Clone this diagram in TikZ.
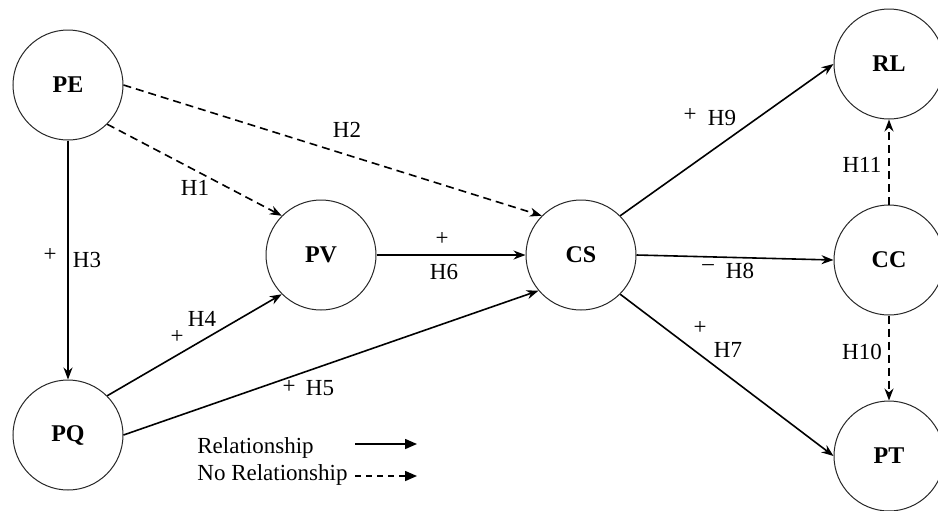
\documentclass[tikz,border=0pt]{standalone}
\usepackage{fontspec}
\setmainfont{Liberation Serif}
\usetikzlibrary{arrows.meta}

\tikzset{
  construct/.style={circle, draw=black!85, line width=0.5pt, minimum size=55pt, inner sep=0pt, font=\fontsize{12}{14}\selectfont\bfseries},
  rel/.style={line width=0.8pt, -{Stealth[length=6pt,width=4.5pt]}},
  norel/.style={rel, dash pattern=on 4pt off 2.5pt},
  hyp/.style={inner sep=0pt}
}

\begin{document}
\begin{tikzpicture}[x=0.5pt, y=-0.5pt, font=\fontsize{11.5}{13}\selectfont]
\useasboundingbox (0,0) rectangle (938,510);

% constructs
\node[construct] (pe) at (68,85)  {PE};
\node[construct] (pq) at (68,435) {PQ};
\node[construct] (pv) at (321,255) {PV};
\node[construct] (cs) at (581,255) {CS};
\node[construct] (rl) at (889,64)  {RL};
\node[construct] (cc) at (889,260) {CC};
\node[construct] (pt) at (889,456) {PT};

% paths
\draw[norel] (pe.-45) -- (pv.135);
\draw[norel] (pe.east) -- (cs.135);
\draw[rel] (pe.south) -- (pq.north);
\draw[rel] (pq.45) -- (pv.-135);
\draw[rel] (pq.east) -- (cs.-140);
\draw[rel] (pv.east) -- (cs.west);
\draw[rel] (cs.45) -- (rl.west);
\draw[rel] (cs.east) -- (cc.west);
\draw[rel] (cs.-45) -- (pt.west);
\draw[norel] (cc.north) -- (rl.south);
\draw[norel] (cc.south) -- (pt.north);

% hypotheses
\node[hyp] (h1) at (195,188) {H1};
\node[hyp] (h2) at (347,130) {H2};
\node[hyp] (s3) at (50,255) {+};
\node[hyp] (h3) at (87,260) {H3};
\node[hyp] (s4) at (177,337) {+};
\node[hyp] (h4) at (202,319) {H4};
\node[hyp] (s5) at (289,387) {+};
\node[hyp] (h5) at (320,388) {H5};
\node[hyp] (s6) at (442,239) {+};
\node[hyp] (h6) at (444,272) {H6};
\node[hyp] (s7) at (700,328) {+};
\node[hyp] (h7) at (728,350) {H7};
\node[hyp] (s8) at (708,268) {--};
\node[hyp] (h8) at (740,271) {H8};
\node[hyp] (s9) at (690,115) {+};
\node[hyp] (h9) at (722,118) {H9};
\node[hyp] (h10) at (862,352) {H10};
\node[hyp] (h11) at (862,165) {H11};

% legend
\node[hyp, anchor=west] (lrel) at (197,448) {Relationship};
\node[hyp, anchor=west] (lnorel) at (197,475) {No Relationship};
\coordinate (a1) at (355,444);
\coordinate (b1) at (417,444);
\coordinate (a2) at (355,476);
\coordinate (b2) at (417,476);
\draw[line width=0.8pt, -{Triangle[length=6pt,width=5pt]}] (a1) -- (b1);
\draw[line width=0.8pt, dash pattern=on 3pt off 2.5pt, -{Triangle[length=6pt,width=5pt]}] (a2) -- (b2);
\end{tikzpicture}
\end{document}
